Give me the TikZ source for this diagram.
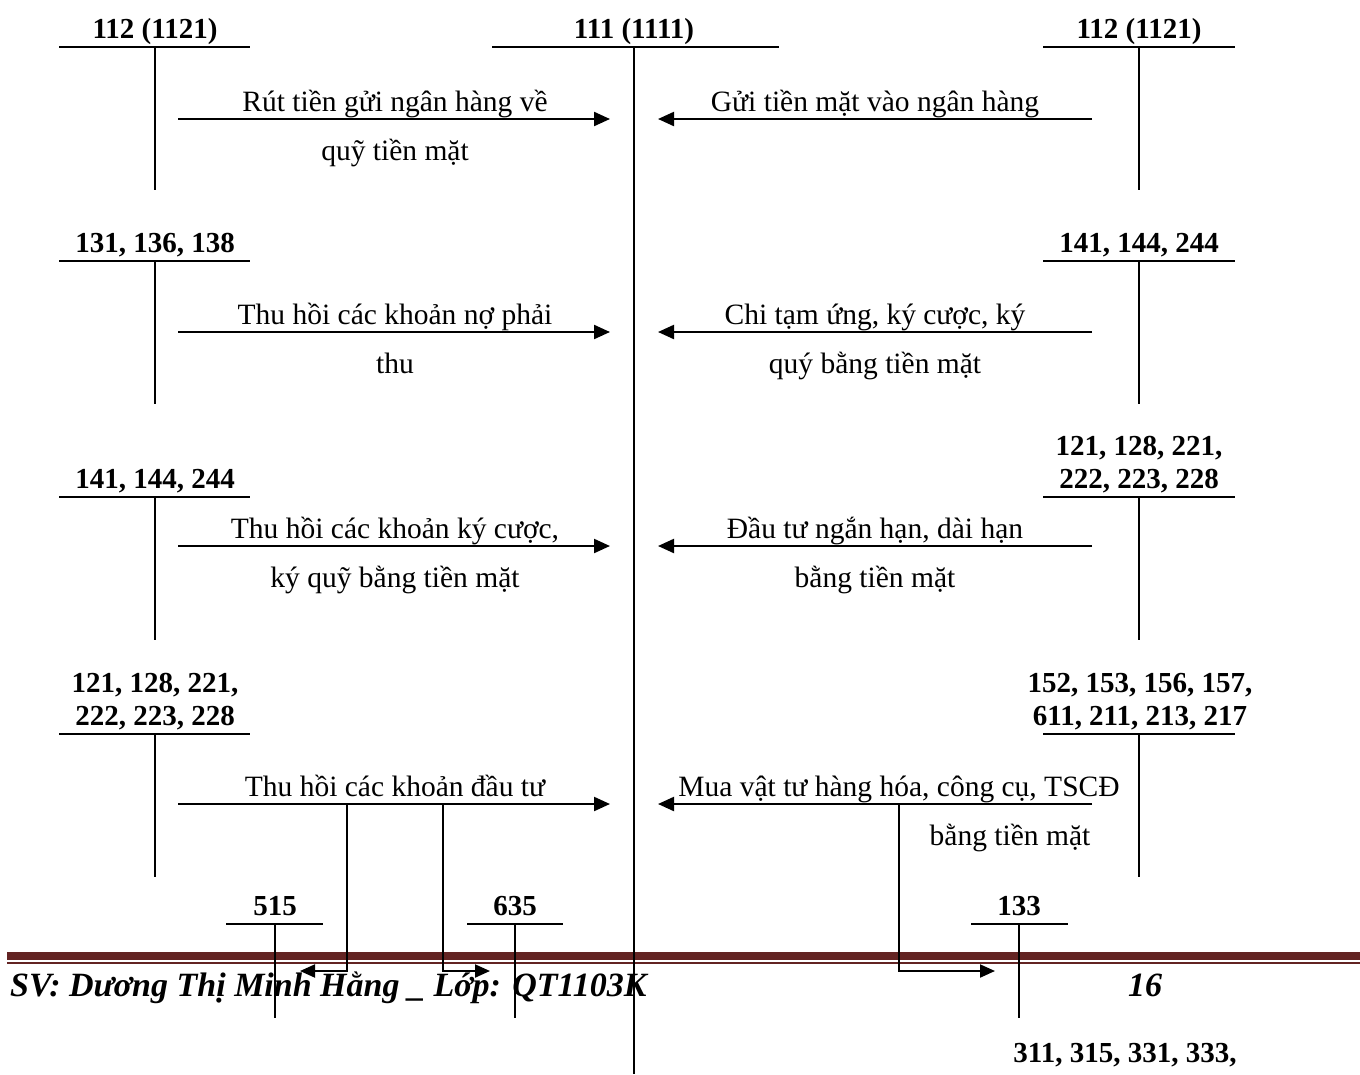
\documentclass[tikz,border=0pt]{standalone}
\usepackage{fontspec}
\setmainfont{Liberation Serif}
\usetikzlibrary{arrows.meta}
\definecolor{maroon}{RGB}{99,36,35}
\begin{document}
\begin{tikzpicture}[x=1pt,y=-1pt,
 acct/.style={font=\fontsize{29}{33}\selectfont\bfseries, inner sep=0, anchor=base, align=center},
 txt/.style={font=\fontsize{29.5}{32}\selectfont, inner sep=0, anchor=base},
 foot/.style={font=\fontsize{34}{36}\selectfont\bfseries\itshape, inner sep=0, anchor=base},
 tl/.style={line width=1.6pt},
 arr/.style={line width=2.2pt, -{Triangle[length=16pt,width=14pt]}},
 br/.style={line width=2pt},
]
\useasboundingbox (0,0) rectangle (1360,1074);
% footer
\fill[maroon] (7,952) rectangle (1360,960);
\fill[maroon] (7,962) rectangle (1360,964);
\node[foot, anchor=base west] (sv) at (10,996) {SV: Dương Thị Minh Hằng \_ Lớp: QT1103K};
\node[foot] (pg) at (1145,996) {16};

% central account 111
\node[acct] (c) at (634,38) {111 (1111)};
\draw[tl] (492,47) -- (779,47);
\draw[tl] (634,47) -- (634,1074);

% row 1
\node[acct] (l1) at (155,38) {112 (1121)};
\draw[tl] (59,47) -- (250,47); \draw[tl] (155,47) -- (155,190);
\node[acct] (r1) at (1139,38) {112 (1121)};
\draw[tl] (1043,47) -- (1235,47); \draw[tl] (1139,47) -- (1139,190);
\coordinate (la1) at (178,119); \coordinate (lb1) at (610,119);
\coordinate (ra1) at (1092,119); \coordinate (rb1) at (658,119);
\draw[arr] (la1) -- (lb1);
\draw[arr] (ra1) -- (rb1);
\node[txt] (t1a) at (395,111) {Rút tiền gửi ngân hàng về};
\node[txt] (t1b) at (395,160) {quỹ tiền mặt};
\node[txt] (t1c) at (875,111) {Gửi tiền mặt vào ngân hàng};

% row 2
\node[acct] (l2) at (155,252) {131, 136, 138};
\draw[tl] (59,261) -- (250,261); \draw[tl] (155,261) -- (155,404);
\node[acct] (r2) at (1139,252) {141, 144, 244};
\draw[tl] (1043,261) -- (1235,261); \draw[tl] (1139,261) -- (1139,404);
\coordinate (la2) at (178,332); \coordinate (lb2) at (610,332);
\coordinate (ra2) at (1092,332); \coordinate (rb2) at (658,332);
\draw[arr] (la2) -- (lb2);
\draw[arr] (ra2) -- (rb2);
\node[txt] (t2a) at (395,324) {Thu hồi các khoản nợ phải};
\node[txt] (t2b) at (395,373) {thu};
\node[txt] (t2c) at (875,324) {Chi tạm ứng, ký cược, ký};
\node[txt] (t2d) at (875,373) {quý bằng tiền mặt};

% row 3
\node[acct] (l3) at (155,488) {141, 144, 244};
\draw[tl] (59,497) -- (250,497); \draw[tl] (155,497) -- (155,640);
\node[acct] (r3a) at (1139,455) {121, 128, 221,};
\node[acct] (r3b) at (1139,488) {222, 223, 228};
\draw[tl] (1043,497) -- (1235,497); \draw[tl] (1139,497) -- (1139,640);
\coordinate (la3) at (178,546); \coordinate (lb3) at (610,546);
\coordinate (ra3) at (1092,546); \coordinate (rb3) at (658,546);
\draw[arr] (la3) -- (lb3);
\draw[arr] (ra3) -- (rb3);
\node[txt] (t3a) at (395,538) {Thu hồi các khoản ký cược,};
\node[txt] (t3b) at (395,587) {ký quỹ bằng tiền mặt};
\node[txt] (t3c) at (875,538) {Đầu tư ngắn hạn, dài hạn};
\node[txt] (t3d) at (875,587) {bằng tiền mặt};

% row 4
\node[acct] (l4a) at (155,692) {121, 128, 221,};
\node[acct] (l4b) at (155,725) {222, 223, 228};
\draw[tl] (59,734) -- (250,734); \draw[tl] (155,734) -- (155,877);
\node[acct] (r4a) at (1140,692) {152, 153, 156, 157,};
\node[acct] (r4b) at (1140,725) {611, 211, 213, 217};
\draw[tl] (1043,734) -- (1235,734); \draw[tl] (1139,734) -- (1139,877);
\coordinate (la4) at (178,804); \coordinate (lb4) at (610,804);
\coordinate (ra4) at (1092,804); \coordinate (rb4) at (658,804);
\draw[arr] (la4) -- (lb4);
\draw[arr] (ra4) -- (rb4);
\node[txt] (t4a) at (395,796) {Thu hồi các khoản đầu tư};
\node[txt] (t4c) at (899,796) {Mua vật tư hàng hóa, công cụ, TSCĐ};
\node[txt] (t4d) at (1010,845) {bằng tiền mặt};

% bottom accounts
\node[acct] (a515) at (275,915) {515};
\draw[tl] (226,924) -- (323,924); \draw[tl] (275,924) -- (275,1018);
\node[acct] (a635) at (515,915) {635};
\draw[tl] (467,924) -- (563,924); \draw[tl] (515,924) -- (515,1018);
\node[acct] (a133) at (1019,915) {133};
\draw[tl] (971,924) -- (1068,924); \draw[tl] (1019,924) -- (1019,1018);
\node[acct] (a311) at (1125,1062) {311, 315, 331, 333,};

% branches
\coordinate (b1) at (347,804); \coordinate (b1e) at (300,971);
\coordinate (b2) at (443,804); \coordinate (b2e) at (490,971);
\coordinate (b3) at (899,804); \coordinate (b3e) at (995,971);
\draw[br, -{Triangle[length=15pt,width=13pt]}] (b1) |- (b1e);
\draw[br, -{Triangle[length=15pt,width=13pt]}] (b2) |- (b2e);
\draw[br, -{Triangle[length=15pt,width=13pt]}] (b3) |- (b3e);
\end{tikzpicture}
\end{document}
